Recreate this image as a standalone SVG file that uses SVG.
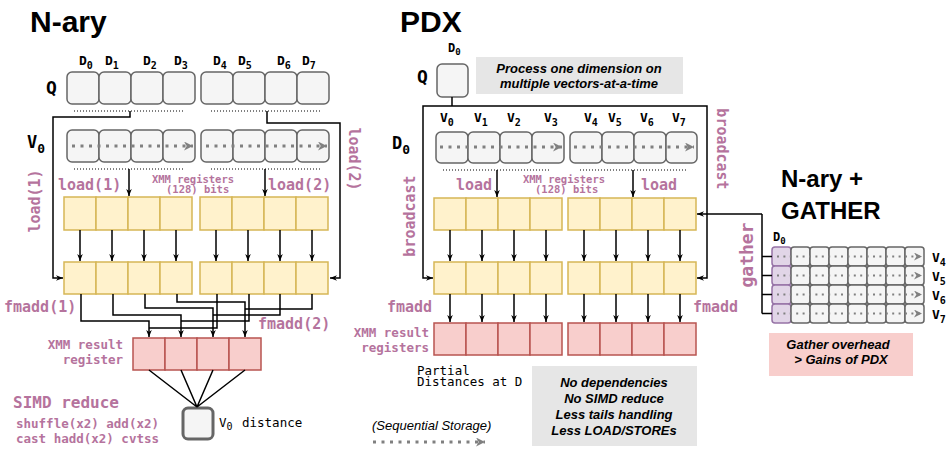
<svg xmlns="http://www.w3.org/2000/svg" width="947" height="450" viewBox="0 0 947 450">
<defs>
<style>
.g{fill:#f5f5f5;stroke:#666;stroke-width:1.5}
.y{fill:#fff2cc;stroke:#d6b656;stroke-width:1.5}
.r{fill:#f8cecc;stroke:#b85450;stroke-width:1.5}
.p{fill:#e1d5e7;stroke:#9673a6;stroke-width:1.5}
.ln{fill:none;stroke:#000;stroke-width:1.5}
.ar{marker-end:url(#ah)}
.sep{fill:none;stroke:#000;stroke-width:1;stroke-dasharray:1 2}
.gd{fill:none;stroke:#808080;stroke-width:3;stroke-dasharray:3 5.5;marker-end:url(#gah)}
.gds{fill:none;stroke:#808080;stroke-width:2;stroke-dasharray:2 4.4;marker-end:url(#gah2)}
.pt{fill:#b5739d;font-family:"DejaVu Sans Mono","Liberation Mono",monospace;font-weight:bold}
.mono{fill:#000;font-family:"DejaVu Sans Mono","Liberation Mono",monospace}
.lbl{fill:#000;font-family:"DejaVu Sans Mono","Liberation Mono",monospace;font-weight:bold}
.ttl{fill:#000;font-family:"Liberation Sans",Arial,sans-serif;font-weight:bold}
.note{fill:#000;font-family:"Liberation Sans",Arial,sans-serif;font-weight:bold;font-style:italic;font-size:13px;text-anchor:middle}
</style>
<marker id="ah" viewBox="0 0 10 10" refX="10" refY="5" markerWidth="7" markerHeight="7" markerUnits="userSpaceOnUse" orient="auto"><path d="M0,1 L10,5 L0,9 L3,5 Z" fill="#000"/></marker>
<marker id="gah" viewBox="0 0 10 10" refX="10" refY="5" markerWidth="9" markerHeight="9" markerUnits="userSpaceOnUse" orient="auto"><path d="M0,0 L10,5 L0,10 L3,5 Z" fill="#808080"/></marker>
<marker id="gah2" viewBox="0 0 10 10" refX="10" refY="5" markerWidth="8" markerHeight="8" markerUnits="userSpaceOnUse" orient="auto"><path d="M0,0 L10,5 L0,10 L3,5 Z" fill="#808080"/></marker>
</defs>
<rect width="947" height="450" fill="#fff"/>

<!-- ================= N-ary ================= -->
<text class="ttl" x="30" y="32" font-size="30">N-ary</text>

<g id="nary-dlabels" class="lbl" font-size="13">
<text x="79" y="65">D<tspan dy="4" font-size="10">0</tspan></text>
<text x="105" y="65">D<tspan dy="4" font-size="10">1</tspan></text>
<text x="143" y="65">D<tspan dy="4" font-size="10">2</tspan></text>
<text x="174" y="65">D<tspan dy="4" font-size="10">3</tspan></text>
<text x="213" y="65">D<tspan dy="4" font-size="10">4</tspan></text>
<text x="238" y="65">D<tspan dy="4" font-size="10">5</tspan></text>
<text x="277" y="65">D<tspan dy="4" font-size="10">6</tspan></text>
<text x="302" y="65">D<tspan dy="4" font-size="10">7</tspan></text>
</g>

<g id="nary-q">
<text class="lbl" x="46" y="94" font-size="18">Q</text>
<rect class="g" x="67" y="72" width="32" height="32" rx="5"/>
<rect class="g" x="99" y="72" width="32" height="32" rx="5"/>
<rect class="g" x="131" y="72" width="32" height="32" rx="5"/>
<rect class="g" x="163" y="72" width="32" height="32" rx="5"/>
<rect class="g" x="201" y="72" width="32" height="32" rx="5"/>
<rect class="g" x="233" y="72" width="32" height="32" rx="5"/>
<rect class="g" x="265" y="72" width="32" height="32" rx="5"/>
<rect class="g" x="297" y="72" width="32" height="32" rx="5"/>
<line class="sep" x1="74" y1="111" x2="183" y2="111"/>
<line class="sep" x1="211" y1="111" x2="320" y2="111"/>
</g>

<g id="nary-v0">
<text class="lbl" x="27" y="148" font-size="17">V<tspan dy="5" font-size="13">0</tspan></text>
<rect class="g" x="67" y="130" width="32" height="32" rx="5"/>
<rect class="g" x="99" y="130" width="32" height="32" rx="5"/>
<rect class="g" x="131" y="130" width="32" height="32" rx="5"/>
<rect class="g" x="163" y="130" width="32" height="32" rx="5"/>
<rect class="g" x="201" y="130" width="32" height="32" rx="5"/>
<rect class="g" x="233" y="130" width="32" height="32" rx="5"/>
<rect class="g" x="265" y="130" width="32" height="32" rx="5"/>
<rect class="g" x="297" y="130" width="32" height="32" rx="5"/>
<line class="gd" x1="72" y1="146" x2="193" y2="146"/>
<line class="gd" x1="206" y1="146" x2="327" y2="146"/>
<line class="sep" x1="74" y1="169" x2="183" y2="169"/>
<line class="sep" x1="211" y1="169" x2="320" y2="169"/>
</g>

<g id="nary-xmm1">
<rect class="y" x="64" y="197" width="32" height="33"/>
<rect class="y" x="96" y="197" width="32" height="33"/>
<rect class="y" x="128" y="197" width="32" height="33"/>
<rect class="y" x="160" y="197" width="32" height="33"/>
<rect class="y" x="200" y="197" width="32" height="33"/>
<rect class="y" x="232" y="197" width="32" height="33"/>
<rect class="y" x="264" y="197" width="32" height="33"/>
<rect class="y" x="296" y="197" width="32" height="33"/>
</g>

<g id="nary-xmm2">
<rect class="y" x="64" y="262" width="32" height="32"/>
<rect class="y" x="96" y="262" width="32" height="32"/>
<rect class="y" x="128" y="262" width="32" height="32"/>
<rect class="y" x="160" y="262" width="32" height="32"/>
<rect class="y" x="200" y="262" width="32" height="32"/>
<rect class="y" x="232" y="262" width="32" height="32"/>
<rect class="y" x="264" y="262" width="32" height="32"/>
<rect class="y" x="296" y="262" width="32" height="32"/>
</g>

<g id="nary-result">
<rect class="r" x="133" y="338" width="32" height="32"/>
<rect class="r" x="165" y="338" width="32" height="32"/>
<rect class="r" x="197" y="338" width="32" height="32"/>
<rect class="r" x="229" y="338" width="32" height="32"/>
<text class="pt" x="123" y="349" font-size="12.5" text-anchor="end">XMM result</text>
<text class="pt" x="123" y="364" font-size="12.5" text-anchor="end">register</text>
</g>

<g id="nary-distance">
<rect x="183" y="408" width="30" height="31" rx="5" fill="#f5f5f5" stroke="#666" stroke-width="3"/>
<text class="mono" x="219" y="427" font-size="12.5">V<tspan dy="3" font-size="10">0</tspan></text>
<text class="mono" x="242" y="427" font-size="12.5">distance</text>
</g>

<g id="nary-labels" class="pt">
<text x="58" y="190" font-size="15">load(1)</text>
<text x="268" y="190" font-size="15">load(2)</text>
<text x="193" y="183" font-size="10.5" text-anchor="middle">XMM registers</text>
<text x="166" y="193" font-size="10.5">(128) bits</text>
<text transform="translate(40,201) rotate(-90)" font-size="15" text-anchor="middle">load(1)</text>
<text transform="translate(349,159) rotate(90)" font-size="15" text-anchor="middle">load(2)</text>
<text x="4" y="312" font-size="15">fmadd(1)</text>
<text x="258" y="329" font-size="15">fmadd(2)</text>
<text x="13" y="408" font-size="16">SIMD reduce</text>
<text x="16" y="428" font-size="12.5">shuffle(x2) add(x2)</text>
<text x="16" y="443" font-size="12.5">cast hadd(x2) cvtss</text>
</g>

<!-- ================= PDX ================= -->
<text class="ttl" x="400" y="32" font-size="30">PDX</text>

<g id="pdx-q">
<text class="lbl" x="448" y="52" font-size="12">D<tspan dy="3" font-size="9">0</tspan></text>
<text class="lbl" x="417" y="83" font-size="18">Q</text>
<rect class="g" x="437" y="64" width="31" height="33" rx="5"/>
</g>

<g id="pdx-note">
<rect x="476" y="57" width="207" height="37" fill="#e6e6e6"/>
<text class="note" x="579" y="73">Process one dimension on</text>
<text class="note" x="579" y="88">multiple vectors-at-a-time</text>
</g>

<g id="pdx-vlabels" class="lbl" font-size="13">
<text x="440" y="122">V<tspan dy="4" font-size="10">0</tspan></text>
<text x="474" y="122">V<tspan dy="4" font-size="10">1</tspan></text>
<text x="507" y="122">V<tspan dy="4" font-size="10">2</tspan></text>
<text x="544" y="122">V<tspan dy="4" font-size="10">3</tspan></text>
<text x="584" y="122">V<tspan dy="4" font-size="10">4</tspan></text>
<text x="608" y="122">V<tspan dy="4" font-size="10">5</tspan></text>
<text x="640" y="122">V<tspan dy="4" font-size="10">6</tspan></text>
<text x="672" y="122">V<tspan dy="4" font-size="10">7</tspan></text>
</g>

<g id="pdx-d0">
<text class="lbl" x="392" y="149" font-size="17">D<tspan dy="5" font-size="13">0</tspan></text>
<rect class="g" x="436" y="132" width="32" height="31" rx="5"/>
<rect class="g" x="468" y="132" width="32" height="31" rx="5"/>
<rect class="g" x="500" y="132" width="32" height="31" rx="5"/>
<rect class="g" x="532" y="132" width="32" height="31" rx="5"/>
<rect class="g" x="570" y="132" width="32" height="31" rx="5"/>
<rect class="g" x="602" y="132" width="32" height="31" rx="5"/>
<rect class="g" x="634" y="132" width="32" height="31" rx="5"/>
<rect class="g" x="666" y="132" width="31" height="31" rx="5"/>
<line class="gd" x1="440" y1="147" x2="562" y2="147"/>
<line class="gd" x1="574" y1="147" x2="694" y2="147"/>
<line class="sep" x1="443" y1="170" x2="551" y2="170"/>
<line class="sep" x1="580" y1="170" x2="688" y2="170"/>
</g>

<g id="pdx-xmm1">
<rect class="y" x="434" y="198" width="32" height="32"/>
<rect class="y" x="466" y="198" width="32" height="32"/>
<rect class="y" x="498" y="198" width="32" height="32"/>
<rect class="y" x="530" y="198" width="32" height="32"/>
<rect class="y" x="568" y="198" width="32" height="32"/>
<rect class="y" x="600" y="198" width="32" height="32"/>
<rect class="y" x="632" y="198" width="32" height="32"/>
<rect class="y" x="664" y="198" width="32" height="32"/>
</g>

<g id="pdx-xmm2">
<rect class="y" x="434" y="262" width="32" height="32"/>
<rect class="y" x="466" y="262" width="32" height="32"/>
<rect class="y" x="498" y="262" width="32" height="32"/>
<rect class="y" x="530" y="262" width="32" height="32"/>
<rect class="y" x="568" y="262" width="32" height="32"/>
<rect class="y" x="600" y="262" width="32" height="32"/>
<rect class="y" x="632" y="262" width="32" height="32"/>
<rect class="y" x="664" y="262" width="32" height="32"/>
</g>

<g id="pdx-result">
<rect class="r" x="434" y="323" width="32" height="32"/>
<rect class="r" x="466" y="323" width="32" height="32"/>
<rect class="r" x="498" y="323" width="32" height="32"/>
<rect class="r" x="530" y="323" width="32" height="32"/>
<rect class="r" x="568" y="323" width="32" height="32"/>
<rect class="r" x="600" y="323" width="32" height="32"/>
<rect class="r" x="632" y="323" width="32" height="32"/>
<rect class="r" x="664" y="323" width="32" height="32"/>
<text class="pt" x="429" y="337" font-size="12.5" text-anchor="end">XMM result</text>
<text class="pt" x="429" y="352" font-size="12.5" text-anchor="end">registers</text>
</g>

<g id="pdx-labels" class="pt">
<text x="456" y="190" font-size="15">load</text>
<text x="641" y="190" font-size="15">load</text>
<text x="564" y="183" font-size="10.5" text-anchor="middle">XMM registers</text>
<text x="535" y="193" font-size="10.5">(128) bits</text>
<text transform="translate(415,216) rotate(-90)" font-size="15" text-anchor="middle">broadcast</text>
<text transform="translate(717,149) rotate(90)" font-size="15" text-anchor="middle">broadcast</text>
<text x="387" y="312" font-size="15">fmadd</text>
<text x="693" y="312" font-size="15">fmadd</text>
</g>

<g id="pdx-partial">
<text class="mono" x="417" y="375" font-size="12.5">Partial</text>
<text class="mono" x="417" y="385.5" font-size="12.5">Distances at D</text>
</g>

<g id="pdx-benefits">
<rect x="532" y="366" width="165" height="80" fill="#e6e6e6"/>
<text class="note" x="614" y="387">No dependencies</text>
<text class="note" x="614" y="403">No SIMD reduce</text>
<text class="note" x="614" y="419">Less tails handling</text>
<text class="note" x="614" y="435">Less LOAD/STOREs</text>
</g>

<g id="legend">
<text x="372" y="430" font-family="Liberation Sans, Arial, sans-serif" font-style="italic" font-size="13" fill="#000">(Sequential Storage)</text>
<line class="gd" x1="373" y1="442" x2="485" y2="442"/>
</g>

<!-- ================= N-ary + GATHER ================= -->
<text class="ttl" x="781" y="187" font-size="24">N-ary +</text>
<text class="ttl" x="781" y="219" font-size="24">GATHER</text>

<g id="gather-grid">
<text class="lbl" x="773" y="241" font-size="12">D<tspan dy="3" font-size="9">0</tspan></text>
<rect class="p" x="772" y="247" width="19" height="19" rx="3"/>
<rect class="p" x="772" y="266" width="19" height="19" rx="3"/>
<rect class="p" x="772" y="285" width="19" height="19" rx="3"/>
<rect class="p" x="772" y="304" width="19" height="19" rx="3"/>
<g class="g">
<rect x="791" y="247" width="19" height="19" rx="3"/><rect x="810" y="247" width="19" height="19" rx="3"/><rect x="829" y="247" width="19" height="19" rx="3"/><rect x="848" y="247" width="19" height="19" rx="3"/><rect x="867" y="247" width="19" height="19" rx="3"/><rect x="886" y="247" width="19" height="19" rx="3"/><rect x="905" y="247" width="19" height="19" rx="3"/>
<rect x="791" y="266" width="19" height="19" rx="3"/><rect x="810" y="266" width="19" height="19" rx="3"/><rect x="829" y="266" width="19" height="19" rx="3"/><rect x="848" y="266" width="19" height="19" rx="3"/><rect x="867" y="266" width="19" height="19" rx="3"/><rect x="886" y="266" width="19" height="19" rx="3"/><rect x="905" y="266" width="19" height="19" rx="3"/>
<rect x="791" y="285" width="19" height="19" rx="3"/><rect x="810" y="285" width="19" height="19" rx="3"/><rect x="829" y="285" width="19" height="19" rx="3"/><rect x="848" y="285" width="19" height="19" rx="3"/><rect x="867" y="285" width="19" height="19" rx="3"/><rect x="886" y="285" width="19" height="19" rx="3"/><rect x="905" y="285" width="19" height="19" rx="3"/>
<rect x="791" y="304" width="19" height="19" rx="3"/><rect x="810" y="304" width="19" height="19" rx="3"/><rect x="829" y="304" width="19" height="19" rx="3"/><rect x="848" y="304" width="19" height="19" rx="3"/><rect x="867" y="304" width="19" height="19" rx="3"/><rect x="886" y="304" width="19" height="19" rx="3"/><rect x="905" y="304" width="19" height="19" rx="3"/>
</g>
<line class="gds" x1="777" y1="256.5" x2="922" y2="256.5"/>
<line class="gds" x1="777" y1="275.5" x2="922" y2="275.5"/>
<line class="gds" x1="777" y1="294.5" x2="922" y2="294.5"/>
<line class="gds" x1="777" y1="313.5" x2="922" y2="313.5"/>
<g class="lbl" font-size="13">
<text x="932" y="262">V<tspan dy="4" font-size="10">4</tspan></text>
<text x="932" y="281">V<tspan dy="4" font-size="10">5</tspan></text>
<text x="932" y="300">V<tspan dy="4" font-size="10">6</tspan></text>
<text x="932" y="319">V<tspan dy="4" font-size="10">7</tspan></text>
</g>
</g>

<g id="gather-note">
<rect x="769" y="333" width="144" height="43" fill="#f8cecc"/>
<text class="note" x="838" y="349">Gather overhead</text>
<text class="note" x="841" y="364">&gt; Gains of PDX</text>
</g>

<text class="pt" transform="translate(753,255) rotate(-90)" font-size="18" text-anchor="middle">gather</text>

<!-- ================= connectors ================= -->
<g id="connectors">
<path class="ln ar" d="M130,111 V117 H53 V278 H63"/>
<path class="ln ar" d="M267,111 V123 H340 V278 H330"/>
<path class="ln ar" d="M129,169 V196"/>
<path class="ln ar" d="M265,169 V196"/>
<path class="ln ar" d="M80,230 V261"/>
<path class="ln ar" d="M112,230 V261"/>
<path class="ln ar" d="M144,230 V261"/>
<path class="ln ar" d="M176,230 V261"/>
<path class="ln ar" d="M216,230 V261"/>
<path class="ln ar" d="M248,230 V261"/>
<path class="ln ar" d="M280,230 V261"/>
<path class="ln ar" d="M312,230 V261"/>
<path class="ln ar" d="M81,294 V321 H149 V337"/>
<path class="ln ar" d="M113,294 V315 H181 V337"/>
<path class="ln ar" d="M145,294 V308 H213 V337"/>
<path class="ln ar" d="M177,294 V302 H245 V337"/>
<path class="ln" d="M217,294 V328 H149"/>
<path class="ln" d="M249,294 V321 H181"/>
<path class="ln" d="M280,294 V315 H213"/>
<path class="ln" d="M312,294 V309 H245"/>
<path class="ln" d="M149,370 L197,407 M181,370 L197,407 M213,370 L197,407 M245,370 L197,407"/>
<path class="ln" d="M452,97 V106"/>
<path class="ln ar" d="M452,106 H423 V278 H433"/>
<path class="ln ar" d="M452,106 H707 V278 H697"/>
<path class="ln ar" d="M497,170 V197"/>
<path class="ln ar" d="M633,170 V197"/>
<path class="ln ar" d="M450,230 V261"/>
<path class="ln ar" d="M482,230 V261"/>
<path class="ln ar" d="M514,230 V261"/>
<path class="ln ar" d="M546,230 V261"/>
<path class="ln ar" d="M584,230 V261"/>
<path class="ln ar" d="M616,230 V261"/>
<path class="ln ar" d="M648,230 V261"/>
<path class="ln ar" d="M680,230 V261"/>
<path class="ln ar" d="M450,294 V322"/>
<path class="ln ar" d="M482,294 V322"/>
<path class="ln ar" d="M514,294 V322"/>
<path class="ln ar" d="M546,294 V322"/>
<path class="ln ar" d="M584,294 V322"/>
<path class="ln ar" d="M616,294 V322"/>
<path class="ln ar" d="M648,294 V322"/>
<path class="ln ar" d="M680,294 V322"/>
<path class="ln ar" d="M762,214 H697"/>
<path class="ln" d="M762,214 V313.5 M762,256.5 H772 M762,275.5 H772 M762,294.5 H772 M762,313.5 H772"/>
</g>
</svg>
